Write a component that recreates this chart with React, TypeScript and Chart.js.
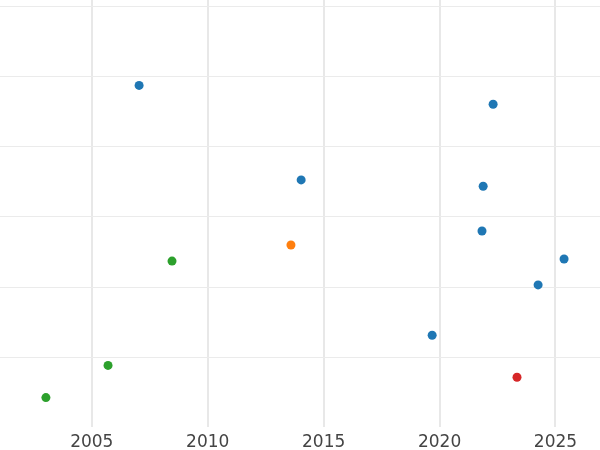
import React, { useEffect, useRef } from "react";
import { Chart, registerables } from "chart.js";

Chart.register(...registerables);

const xTicks = [2005, 2010, 2015, 2020, 2025];
const yTicks = [1, 2, 3, 4, 5, 6];

const blueX = [2007.04, 2022.31, 2014.03, 2021.88, 2021.83, 2025.37, 2024.25, 2019.68];
const blueY = [4.88, 4.61, 3.53, 3.44, 2.8, 2.4, 2.03, 1.31];
const orangeX = [2013.59];
const orangeY = [2.6];
const greenX = [2008.46, 2005.7, 2003.02];
const greenY = [2.37, 0.88, 0.42];
const redX = [2023.34];
const redY = [0.71];

const toPoints = (xs: number[], ys: number[]) => xs.map((x, i) => ({ x, y: ys[i] }));

export default function App() {
  const ref = useRef<HTMLCanvasElement | null>(null);
  useEffect(() => {
    if (!ref.current) return;
    const mk = (label: string, xs: number[], ys: number[], color: string) => ({
      label,
      data: toPoints(xs, ys),
      backgroundColor: color,
      borderColor: color,
      pointRadius: 4.5,
      pointBorderWidth: 0,
    });
    const chart = new Chart(ref.current, {
      type: "scatter",
      data: {
        datasets: [
          mk("blue", blueX, blueY, "#1f77b4"),
          mk("orange", orangeX, orangeY, "#ff7f0e"),
          mk("green", greenX, greenY, "#2ca02c"),
          mk("red", redX, redY, "#d62728"),
        ],
      },
      options: {
        animation: false,
        responsive: false,
        maintainAspectRatio: false,
        layout: { padding: 0, autoPadding: false },
        plugins: { legend: { display: false }, tooltip: { enabled: false } },
        scales: {
          x: {
            type: "linear",
            min: 2001.04,
            max: 2026.92,
            afterBuildTicks: (axis: any) => {
              axis.ticks = xTicks.map((v) => ({ value: v }));
            },
            afterFit: (axis: any) => {
              axis.height = 23;
            },
            grid: { color: "#e8e8e8", lineWidth: 2, drawTicks: false },
            border: { display: false },
            ticks: {
              color: "#444444",
              padding: 5,
              font: { family: "DejaVu Sans", size: 17 },
              callback: (v: any) => String(v),
            },
          },
          y: {
            type: "linear",
            min: 0,
            max: 6.1,
            afterBuildTicks: (axis: any) => {
              axis.ticks = yTicks.map((v) => ({ value: v }));
            },
            ticks: { display: false },
            grid: {
              color: "#ebebeb",
              lineWidth: 1,
              drawTicks: false,
            },
            border: { display: false },
          },
        },
      },
    });
    return () => chart.destroy();
  }, []);
  return (
    <div style={{ position: "fixed", left: 0, top: 0, width: 600, height: 450, background: "#fff" }}>
      <canvas ref={ref} width={600} height={450} style={{ width: 600, height: 450 }} />
    </div>
  );
}
